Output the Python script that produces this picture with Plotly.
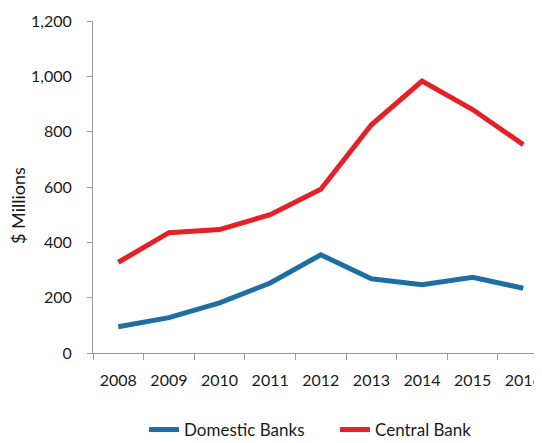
import plotly.graph_objects as go

years = ["2008", "2009", "2010", "2011", "2012", "2013", "2014", "2015", "2016"]
domestic_banks = [95, 128, 181, 253, 355, 268, 247, 274, 234]
central_bank = [328, 435, 446, 500, 592, 825, 983, 880, 753]
y_ticks = [0, 200, 400, 600, 800, 1000, 1200]
y_labels = ["0", "200", "400", "600", "800", "1,000", "1,200"]

FONT = "Lato"
fig = go.Figure()
fig.add_trace(go.Scatter(x=years, y=domestic_banks, mode="lines", name="Domestic Banks",
                         line=dict(color="#1F6EA3", width=5)))
fig.add_trace(go.Scatter(x=years, y=central_bank, mode="lines", name="Central Bank",
                         line=dict(color="#E42128", width=5)))

# page body has an 8px margin, so the figure is offset by (8, 8) on screen
OFF = 8
W, H = 542 - OFF, 443 - OFF
L, R, T = 93 - OFF, 0, 21 - OFF
B = H - (353 - OFF)
pw = W - L - R
ph = H - T - B

def py(screen_y):
    return (353 - screen_y) / ph

def px(screen_x):
    return (screen_x - 93) / pw

fig.update_layout(
    width=W, height=H,
    margin=dict(l=L, r=R, t=T, b=B, pad=0, autoexpand=False),
    paper_bgcolor="white", plot_bgcolor="white",
    font=dict(family=FONT, size=16, color="#1a1a1a"),
    showlegend=True,
    legend=dict(orientation="h", x=px(153 - 9), xanchor="left",
                y=py(430), yanchor="middle",
                entrywidth=146, entrywidthmode="pixels",
                font=dict(family=FONT, size=17, color="#1a1a1a"),
                itemwidth=30, tracegroupgap=0),
    xaxis=dict(type="category", range=[-0.5, 8.37], showgrid=False, automargin=False,
               showline=True, linecolor="#9a9a9a", linewidth=1,
               ticks="outside", tickson="boundaries", ticklen=6, tickcolor="#9a9a9a",
               ticklabelstandoff=13,
               tickfont=dict(family=FONT, size=16)),
    yaxis=dict(range=[0, 1200], tickvals=y_ticks, ticktext=y_labels, showgrid=False,
               zeroline=False, automargin=False,
               showline=True, linecolor="#9a9a9a", linewidth=1,
               ticks="outside", ticklen=5, tickcolor="#9a9a9a",
               ticklabelstandoff=12,
               tickfont=dict(family=FONT, size=16)),
    annotations=[dict(text="$ Millions", textangle=-90, showarrow=False,
                      xref="paper", yref="paper",
                      x=px(18), y=py(206),
                      xanchor="center", yanchor="middle",
                      font=dict(family=FONT, size=18, color="#1a1a1a"))],
)

fig.write_html("out.html")
